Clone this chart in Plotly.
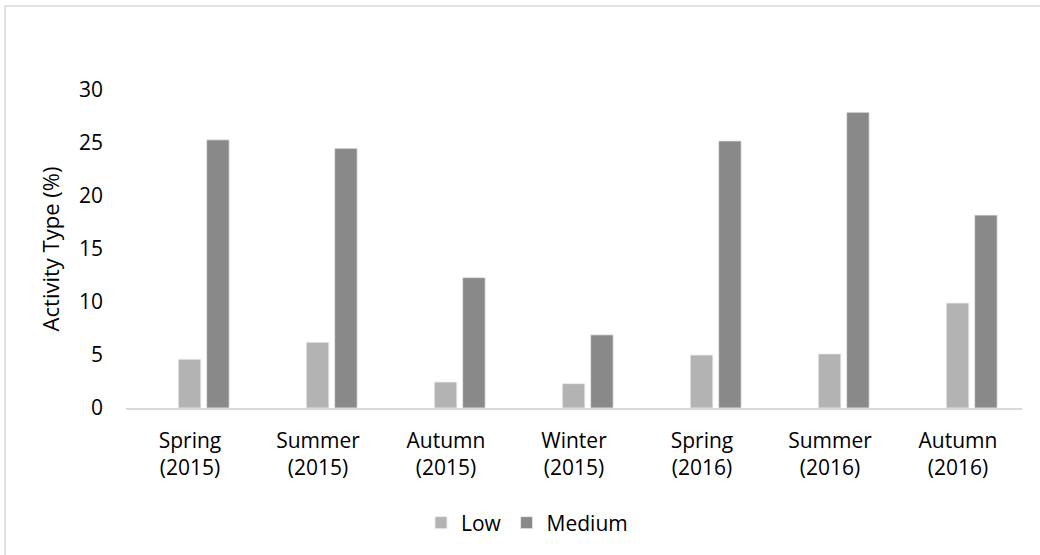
import plotly.graph_objects as go

categories = ["Spring<br>(2015)", "Summer<br>(2015)", "Autumn<br>(2015)", "Winter<br>(2015)",
              "Spring<br>(2016)", "Summer<br>(2016)", "Autumn<br>(2016)"]
low_values = [4.6, 6.2, 2.45, 2.3, 5.0, 5.1, 9.9]
medium_values = [25.3, 24.5, 12.3, 6.9, 25.2, 27.9, 18.2]
y_ticks = [0, 5, 10, 15, 20, 25, 30]

FONT = "Open Sans"
FS = 21
TXT = "#000000"
LINE = "#d9d9d9"

fig = go.Figure()
fig.add_trace(go.Bar(
    x=categories, y=low_values, name="Low",
    marker=dict(color="#b3b3b3", line=dict(color="#ececec", width=0.8)),
    offset=-0.0914, width=0.176,
))
fig.add_trace(go.Bar(
    x=categories, y=medium_values, name="Medium",
    marker=dict(color="#898989", line=dict(color="#ececec", width=0.8)),
    offset=0.130, width=0.176,
))

W, H = 1040, 555
L, R, T, B = 126, 18, 90, 147
pw, ph = W - L - R, H - T - B

def px_x(p):
    return (p - L) / pw

def px_y(p):
    return (H - B - p) / ph

fig.update_layout(
    width=W, height=H,
    margin=dict(l=L, r=R, t=T, b=B, autoexpand=False),
    barmode="overlay",
    paper_bgcolor="white", plot_bgcolor="white",
    font=dict(family=FONT, size=FS, color=TXT),
    showlegend=True,
    legend=dict(orientation="h", x=px_x(527), xanchor="center",
                y=px_y(523), yanchor="middle",
                font=dict(family=FONT, size=FS, color=TXT),
                bgcolor="rgba(0,0,0,0)"),
    xaxis=dict(
        type="category", range=[-0.5, 6.5],
        showline=True, linecolor=LINE, linewidth=1.5,
        showgrid=False, zeroline=False, ticks="",
        tickfont=dict(family=FONT, size=FS, color=TXT),
        ticklabelstandoff=13,
        automargin=False,
    ),
    yaxis=dict(
        range=[0, 30], tickvals=y_ticks,
        showline=False, showgrid=False, zeroline=False, ticks="",
        tickfont=dict(family=FONT, size=FS, color=TXT),
        ticklabelstandoff=22,
        title=dict(text="Activity Type (%)", standoff=13,
                   font=dict(family=FONT, size=FS + 1, color=TXT)),
        automargin=False,
    ),
    shapes=[dict(type="rect", xref="paper", yref="paper",
                 x0=px_x(5), x1=px_x(1060), y0=px_y(575), y1=px_y(6),
                 line=dict(color=LINE, width=1.5), fillcolor="rgba(0,0,0,0)",
                 layer="below")],
)

fig.write_html("out.html",
               config={"displayModeBar": False},
               post_script="document.body.style.margin='0';document.body.style.overflow='hidden';")
